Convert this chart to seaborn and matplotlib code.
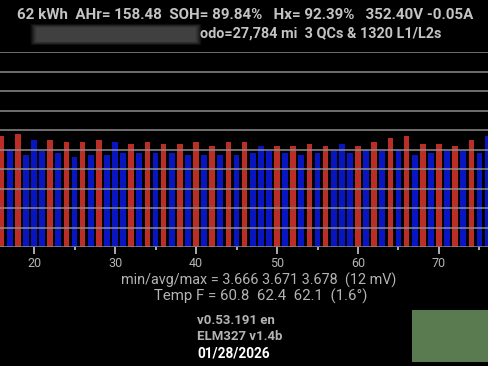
import numpy as np
import pandas as pd
import matplotlib
matplotlib.use("Agg")
import matplotlib.pyplot as plt
import seaborn as sns
from matplotlib.patches import Rectangle, FancyBboxPatch

# ---- data ----
cells = list(range(16, 77))
cell_volts = [
    3.677, 3.670, 3.678, 3.667, 3.675, 3.669, 3.675, 3.668, 3.674, 3.666,  # 16-25
    3.674, 3.667, 3.675, 3.667, 3.674, 3.668, 3.673, 3.668, 3.674, 3.668,  # 26-35
    3.673, 3.668, 3.673, 3.667, 3.674, 3.667, 3.672, 3.667, 3.674, 3.667,  # 36-45
    3.674, 3.668, 3.672, 3.669, 3.672, 3.668, 3.672, 3.667, 3.673, 3.668,  # 46-55
    3.672, 3.669, 3.673, 3.668, 3.672, 3.670, 3.674, 3.669, 3.676, 3.670,  # 56-65
    3.677, 3.667, 3.673, 3.668, 3.673, 3.669, 3.672, 3.669, 3.675, 3.668,  # 66-75
    3.677,                                                                  # 76
]
shunt = [
    "R", "B", "R", "B", "B", "B", "R", "B", "R", "B",
    "R", "B", "R", "B", "B", "B", "R", "B", "R", "B",
    "R", "B", "R", "B", "R", "B", "R", "B", "R", "B",
    "R", "B", "B", "B", "R", "B", "R", "B", "R", "B",
    "R", "B", "B", "B", "R", "B", "R", "B", "R", "B",
    "R", "B", "R", "B", "R", "B", "R", "B", "R", "B",
    "B",
]
x_ticks = [20, 30, 40, 50, 60, 70]
x_minor = [25, 35, 45, 55, 65, 75]
header1 = "62 kWh  AHr= 158.48  SOH= 89.84%   Hx= 92.39%   352.40V -0.05A"
header2 = "odo=27,784 mi  3 QCs & 1320 L1/L2s"
stats1 = "min/avg/max = 3.666 3.671 3.678  (12 mV)"
stats2 = "Temp F = 60.8  62.4  62.1  (1.6°)"
footer = ["v0.53.191 en", "ELM327 v1.4b"]
date_text = "01/28/2026"

df = pd.DataFrame({"cell": cells, "volts": cell_volts, "state": shunt})

RED = "#bb2e26"
BLUE = "#0a15c2"
GRID = "#8c8c8c"
TXT = "#b4b4b4"

sns.set_theme(style="dark")
plt.rcParams["font.family"] = ["Roboto", "DejaVu Sans"]

W, H = 488, 366
fig = plt.figure(figsize=(W / 100, H / 100), dpi=100, facecolor="black")
ax = fig.add_axes([0, (H - 247) / H, 1, (247 - 52) / H])
ax.set_facecolor("black")

sns.barplot(data=df, x="cell", y="volts", hue="state",
            palette={"R": RED, "B": BLUE}, native_scale=True,
            dodge=False, width=0.7, legend=False, saturation=1,
            linewidth=0, ax=ax)

for v in np.arange(3.62, 3.7201, 0.01):
    ax.axhline(v, color=GRID, lw=1.1, zorder=5)

ax.set_yticks([])
ax.set_xticks(x_ticks)
ax.set_xticklabels([str(t) for t in x_ticks])
ax.set_xticks(x_minor, minor=True)
ax.set_xlim(15.8, 76.05)
ax.set_ylim(3.62, 3.72)
ax.tick_params(axis="x", which="major", length=5, width=1.2, color="#c8c8c8",
               pad=2.5, labelsize=9, labelcolor=TXT, direction="out", bottom=True)
ax.tick_params(axis="x", which="minor", length=2.5, width=1.2, color="#c8c8c8",
               direction="out", bottom=True)
ax.set_xlabel("")
ax.set_ylabel("")
ax.grid(False)
for s in ax.spines.values():
    s.set_visible(False)

# header text
fig.text(245 / W, 1 - 15 / H, header1, ha="center", va="center",
         fontsize=10.9, color="#c4c4c4", fontweight="bold")
fig.text(200 / W, 1 - 34 / H, header2, ha="left", va="center",
         fontsize=10.4, color="#c4c4c4", fontweight="bold")
# blurred (obscured) area
for i in range(7):
    pad = 6 - i
    fig.patches.append(FancyBboxPatch(((32 + pad) / W, 1 - (44 - pad * 0.6) / H),
                                      (168 - 2 * pad) / W, (19 - 1.2 * pad) / H,
                                      boxstyle="round,pad=0.003", transform=fig.transFigure,
                                      facecolor="#8a8a8a", edgecolor="none", alpha=0.09))

# stats
fig.text(259 / W, 1 - 280 / H, stats1, ha="center", va="center",
         fontsize=10.4, color=TXT)
fig.text(261 / W, 1 - 296 / H, stats2, ha="center", va="center",
         fontsize=10.8, color=TXT)

# footer
fig.text(197 / W, 1 - 320 / H, footer[0], ha="left", va="center",
         fontsize=9.5, color=TXT, fontweight="bold")
fig.text(197 / W, 1 - 337 / H, footer[1], ha="left", va="center",
         fontsize=9.5, color=TXT, fontweight="bold")
fig.text(197 / W, 1 - 354 / H, date_text, ha="left", va="center",
         fontsize=9.8, color="white", fontweight="bold")

fig.patches.append(Rectangle((412 / W, 1 - 362 / H), 76 / W, 52 / H,
                             transform=fig.transFigure, facecolor="#5a7a50",
                             edgecolor="none"))

fig.savefig("out.png", dpi=100, facecolor="black")
